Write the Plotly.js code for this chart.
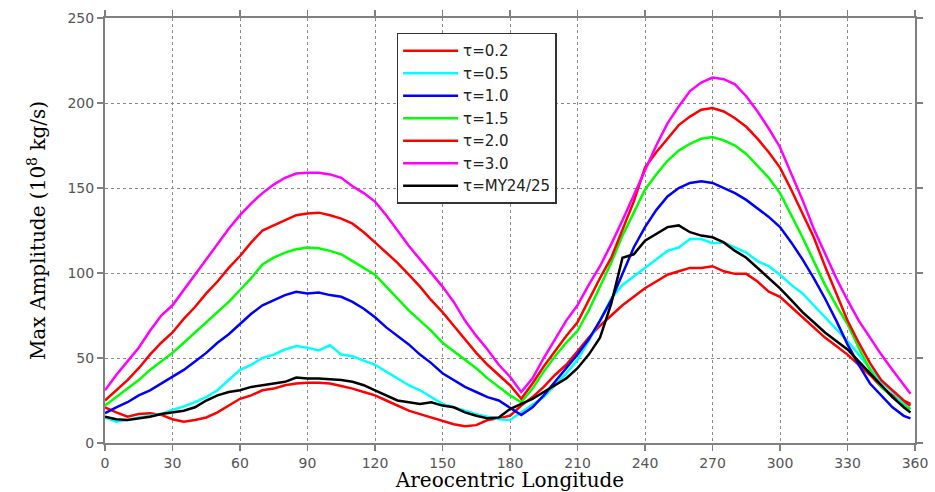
<!DOCTYPE html>
<html>
<head>
<meta charset="utf-8">
<script src="https://cdn.plot.ly/plotly-3.0.1.min.js"></script>
<style>html,body{margin:0;padding:0;background:#fff;}#chart{width:935px;height:492px;}</style>
</head>
<body>
<div id="chart"></div>
<script>
const lon = [0,5,10,15,20,25,30,35,40,45,50,55,60,65,70,75,80,85,90,95,100,105,110,115,120,125,130,135,140,145,150,155,160,165,170,175,180,185,190,195,200,205,210,215,220,225,230,235,240,245,250,255,260,265,270,275,280,285,290,295,300,305,310,315,320,325,330,335,340,345,350,355,358];

const tau02 = [21,18,15.5,17,17.5,16.5,14,12.5,13.5,15,18,22,26,28,31,32,34,35,35.5,35.5,35,33.5,32,30,28,25,22,19,17,15,13,11,9.8,10.5,13.5,14.5,16,22,27,33,40,46,54,62,69,75,81,86,91,95,99,101,103,103,104,101,99.5,99.5,95,89,86,80,74,68,62,57,52,46,40,33,28,24,22];
const tau05 = [15,12.5,13.5,15,16,17,19.5,21.5,24,27,31,37,43,46,50,52,55,57,56,54.5,57.5,52,51,48.5,46,42,38,34,31,27,23,21,19,17,15.5,14,13.5,18,22,27,34,41,49,60,72,85,93,98,103,108,113,115,120,120,117.5,118,115,112,107,104,99,93,88,81,74,67,60,52,44,36,30,23,20];
const tau10 = [17.5,21,24,28,31,35,39,43,48,53,59,64,70,76,81,84,87,89,88,88.5,87,86,83,79,74,68,63,58,52,47,41,37,33,30,27,25,21,16.5,21,28,36,44,52,61,72,84,100,115,127,137,145,150,153,154,153,150,147,143,138,133,127,118,108,97,85,72,58,46,35,28,21,16,14.5];
const tau15 = [22,27,32,37,43,48,53,59,65,71,77,83,90,97,105,109,112,114,115,114.5,113,111,107,103,99,92,85,78,72,66,59,54,49,44,38,33,28,24,32,42,51,59,66,78,92,106,122,136,149,158,166,172,176,179,180,178,175,170,163,156,147,134,121,107,93,81,70,56,43,33,27,22,20];
const tau20 = [25,31,37,44,52,59,65,73,80,88,95,103,110,118,125,128,131,134,135,135.5,134,132,129,124,118,112,106,99,92,84,77,69,61,53,46,40,34,26,35,45,54,63,71,84,97,109,125,142,162,171,179,187,192,196,197,195,191,186,179,171,162,149,135,121,104,88,72,59,47,37,31,25,23];
const tau30 = [31,40,48,56,66,75,81,90,99,108,117,126,134,141,147,152,156,158.5,159,159,158,156,151,147,142,134,125,116,108,100,92,83,72,63,55,46,39,30,38,50,61,72,81,93,104,117,131,146,160,175,188,198,207,212,215,214,211,204,195,185,174,159,143,126,111,97,84,72,62,52,43,34,29];
const my2425 = [15.5,14,13.5,14.5,15.5,17,18,19,21,25,28,30,31,33,34,35,36,38.5,38,38,37.5,37,36,34,31,28,25,24,23,24,22,21,18,16,14.5,15,20,23,26,30,34,38,44,52,62,82,109,111,119,123,127,128,124,122,121,118,113,109,103,97,91,84,77,71,65,60,55,48,41,34,27,21,18];

const names = ['\u03c4=0.2','\u03c4=0.5','\u03c4=1.0','\u03c4=1.5','\u03c4=2.0','\u03c4=3.0','\u03c4=MY24/25'];
const series = [tau02,tau05,tau10,tau15,tau20,tau30,my2425];
const colors = ['#ff0000','#00ffff','#0000ff','#00ff00','#ff0000','#ff00ff','#000000'];

const traces = series.map((s,i)=>({
  x: lon, y: s, type:'scatter', mode:'lines', name: names[i],
  line:{color:colors[i], width:2.5}
}));

const axisCommon = {
  showline:true, linecolor:'#808080', linewidth:2, mirror:'ticks',
  ticks:'outside', ticklen:6, tickcolor:'#808080', tickwidth:1.5,
  showgrid:true, gridcolor:'#8a8a8a', gridwidth:1, griddash:'dot',
  zeroline:false,
  tickfont:{family:'DejaVu Sans, Arial, sans-serif', size:14, color:'#555'}
};

const layout = {
  width:935, height:492,
  margin:{l:105, r:20, t:18, b:49},
  paper_bgcolor:'#fff', plot_bgcolor:'#fff',
  showlegend:true,
  legend:{x:0.36, y:0.965, xanchor:'left', yanchor:'top', bgcolor:'#fff',
    bordercolor:'#333', borderwidth:1.5, itemwidth:55,
    font:{family:'DejaVu Sans, Arial, sans-serif', size:15, color:'#222'},
    tracegroupgap:0},
  xaxis:Object.assign({}, axisCommon, {range:[0,360], dtick:30, tick0:0,
    title:{text:'Areocentric Longitude', standoff:9,
      font:{family:'DejaVu Serif, Times New Roman, serif', size:20, color:'#000'}}}),
  yaxis:Object.assign({}, axisCommon, {range:[0,250], dtick:50, tick0:0,
    title:{text:'Max Amplitude (10<sup>8</sup> kg/s)', standoff:16,
      font:{family:'DejaVu Serif, Times New Roman, serif', size:20, color:'#000'}}})
};

Plotly.newPlot('chart', traces, layout, {displayModeBar:false, staticPlot:true});
</script>
</body>
</html>
